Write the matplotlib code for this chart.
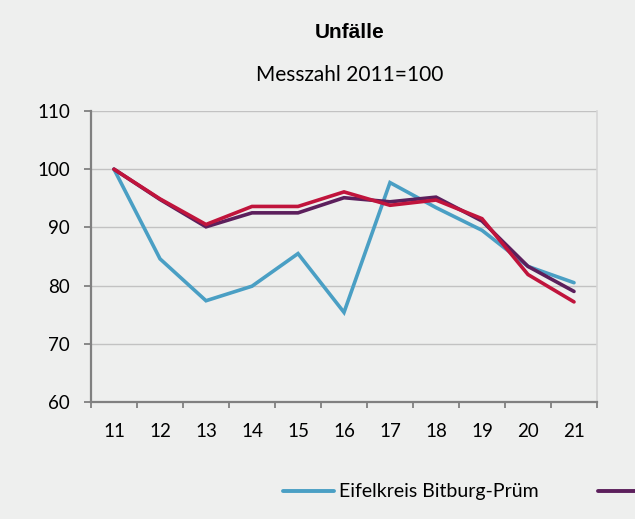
import matplotlib
matplotlib.use("Agg")
import matplotlib.pyplot as plt
from matplotlib.lines import Line2D

years = ["11", "12", "13", "14", "15", "16", "17", "18", "19", "20", "21"]
bitburg = [100, 84.6, 77.4, 79.9, 85.5, 75.4, 97.7, 93.4, 89.5, 83.3, 80.5]
series2 = [100, 94.8, 90.1, 92.5, 92.5, 95.1, 94.4, 95.2, 91.1, 83.3, 79.0]
series3 = [100, 94.9, 90.5, 93.6, 93.6, 96.1, 93.8, 94.7, 91.5, 81.9, 77.2]
legend_label = "Eifelkreis Bitburg-Prüm"
colors = ["#4a9fc4", "#5c1f5c", "#c0143c"]
bg = "#eeefee"

W, H = 635, 519
plt.rcParams['font.family'] = ['Lato', 'DejaVu Sans']
fig = plt.figure(figsize=(W / 100, H / 100), dpi=100, facecolor=bg)
ax = fig.add_axes([91 / W, 1 - 402 / H, (597 - 91) / W, (402 - 111) / H])
ax.set_facecolor(bg)

x = list(range(len(years)))
for vals, c in zip([bitburg, series2, series3], colors):
    ax.plot(x, vals, color=c, lw=2.6, solid_capstyle='round', solid_joinstyle='miter')

ax.set_xlim(-0.5, len(years) - 0.5)
ax.set_ylim(60, 110)
ax.set_yticks(range(60, 111, 10))
ax.set_yticklabels([str(v) for v in range(60, 111, 10)], fontsize=13.5)
ax.grid(axis='y', color='#c2c2c2', lw=1)
ax.set_axisbelow(True)

ax.set_xticks([i - 0.5 for i in range(len(years) + 1)])
ax.set_xticklabels([])
ax.set_xticks(x, minor=True)
ax.set_xticklabels(years, minor=True, fontsize=13.5)
ax.tick_params(axis='x', which='minor', length=0, pad=15)
ax.tick_params(axis='x', which='major', length=4.5, color='#808080', width=1.3)
ax.tick_params(axis='y', length=5, color='#808080', width=1.3, pad=10)

for s in ['left', 'bottom']:
    ax.spines[s].set_color('#808080')
    ax.spines[s].set_linewidth(1.6)
ax.spines['top'].set_visible(False)
ax.spines['right'].set_color('#d6d6d6')
ax.spines['right'].set_linewidth(1.2)

fig.text(350 / W, 1 - 33 / H, "Unfälle", ha='center', va='center', fontsize=15,
         fontweight='bold', family=['Liberation Sans', 'DejaVu Sans'])
fig.text(350 / W, 1 - 75 / H, "Messzahl 2011=100", ha='center', va='center', fontsize=15)

# legend: blue entry fully visible, next entry's line cut by the right edge
fig.add_artist(Line2D([283 / W, 334 / W], [1 - 491 / H, 1 - 491 / H], color=colors[0],
                      lw=2.8, solid_capstyle='round', transform=fig.transFigure))
fig.text(339 / W, 1 - 491 / H, legend_label, ha='left', va='center', fontsize=14)
fig.add_artist(Line2D([598 / W, 660 / W], [1 - 491 / H, 1 - 491 / H], color=colors[1],
                      lw=2.8, solid_capstyle='round', transform=fig.transFigure))

fig.savefig("out.png", dpi=100, facecolor=bg)
